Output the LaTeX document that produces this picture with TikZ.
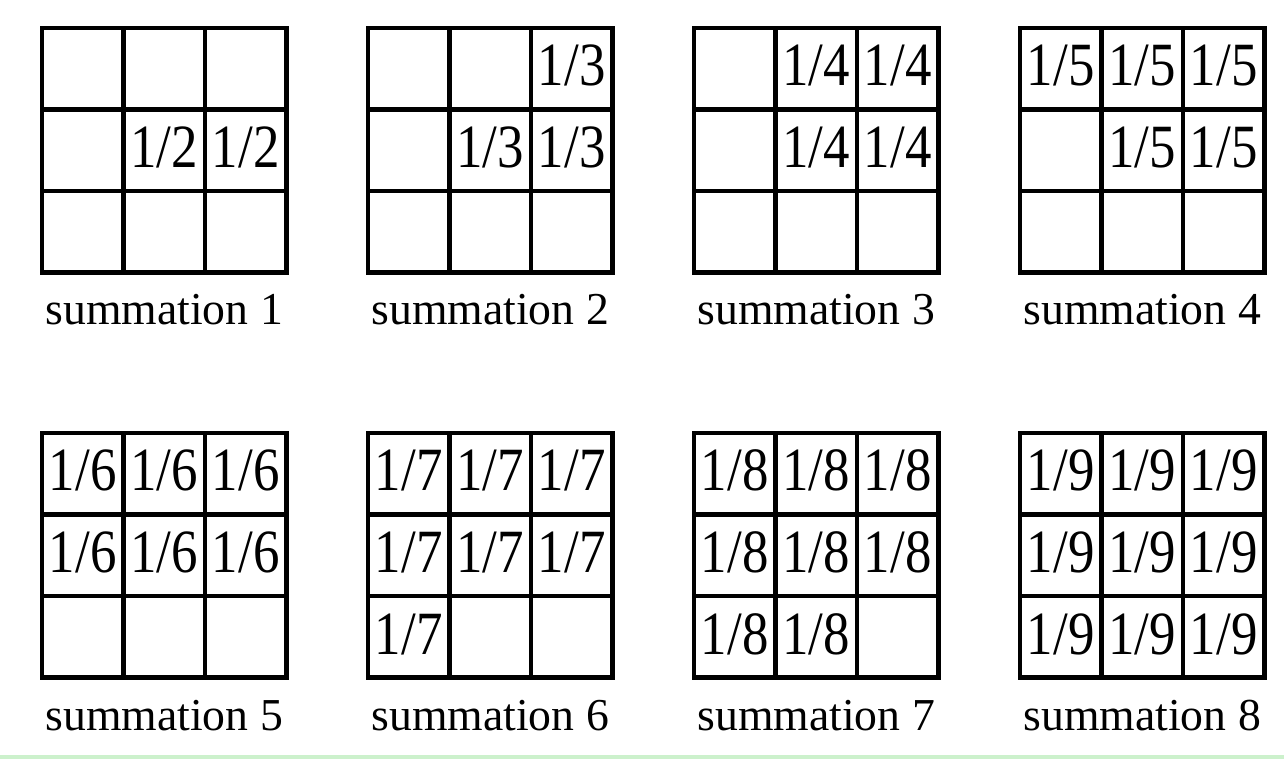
\documentclass[tikz,border=0pt]{standalone}
\usepackage{fontspec}
\setmainfont{Liberation Serif}
\newfontfamily\cellfont[FakeStretch=0.86]{Liberation Serif}
\usepackage{tikz}
\usetikzlibrary{positioning}
\definecolor{bandgreen}{RGB}{204,241,204}
\tikzset{gridline/.style={line width=2.3pt},
  entry/.style={font=\cellfont\fontsize{35pt}{35pt}\selectfont,anchor=base,inner sep=0pt},
  caption/.style={font=\fontsize{26pt}{26pt}\selectfont,anchor=base,inner sep=0pt}}

\begin{document}
\begin{tikzpicture}[x=0.02cm,y=-0.02cm]
\useasboundingbox (0,0) rectangle (1284,759);
\fill[bandgreen] (0,755) rectangle (1284,759);
\foreach \g/\cells in {1/{2/2,2/3},2/{1/3,2/2,2/3},3/{1/2,1/3,2/2,2/3},
  4/{1/1,1/2,1/3,2/2,2/3},5/{1/1,1/2,1/3,2/1,2/2,2/3},
  6/{1/1,1/2,1/3,2/1,2/2,2/3,3/1},7/{1/1,1/2,1/3,2/1,2/2,2/3,3/1,3/2},
  8/{1/1,1/2,1/3,2/1,2/2,2/3,3/1,3/2,3/3}}{
  \pgfmathsetmacro\gx{42+mod(\g-1,4)*326}
  \pgfmathsetmacro\gy{28+int((\g-1)/4)*405}
  \pgfmathtruncatemacro\den{\g+1}
  \draw[gridline] (\gx,\gy) coordinate (g\g) rectangle +(244.5,244.5);
  \draw[gridline] (\gx+81.5,\gy) -- +(0,244.5) (\gx+163,\gy) -- +(0,244.5)
    (\gx,\gy+81.5) -- +(244.5,0) (\gx,\gy+163) -- +(244.5,0);
  \foreach \r/\c in \cells
    \node[entry] (e\g-\r-\c) at (\gx+\c*81.5-40.75,\gy+\r*81.5-23.5) {1/\den};
  \node[caption] (sum\g) at (\gx+122.25,\gy+297) {summation \g};
}
\end{tikzpicture}
\end{document}
